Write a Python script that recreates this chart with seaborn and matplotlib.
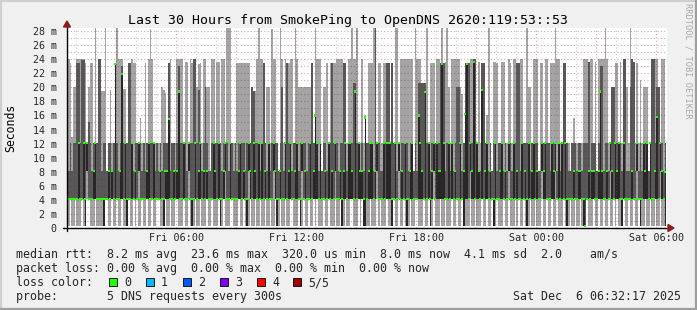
import numpy as np
import pandas as pd
import matplotlib
matplotlib.use("Agg")
import matplotlib.pyplot as plt
import matplotlib.dates as mdates
from matplotlib.patches import Polygon, Rectangle
from matplotlib.lines import Line2D
import seaborn as sns

# ---------------- data (ms), one value per 5-minute step ----------------
FIRST_STEP_END = "2025-12-05 00:35"
WINDOW_START = "2025-12-05 00:32:17"
WINDOW_END = "2025-12-06 06:32:17"

# highest of the 5 pings
hi_ms = [
    24.0,24.0,23.5,13.0,20.1,20.1,24.0,24.0,24.0,24.0, 24.0,23.5,12.1,20.0,23.5,23.5,12.1,28.5,12.1,24.0, 24.0,19.5,19.5,28.5,8.1,12.1,19.6,12.1,12.1,23.5,
    28.5,24.0,24.0,24.0,19.8,19.8,12.1,23.4,23.4,24.0, 23.4,23.4,12.1,12.1,15.6,12.1,12.1,23.5,12.1,24.0, 28.3,24.0,12.1,12.1,12.1,12.1,12.1,20.0,19.6,19.2,
    12.1,23.5,24.0,12.1,12.1,12.1,24.0,24.0,24.0,24.0, 12.1,23.6,23.6,12.1,24.0,23.4,24.0,24.0,20.0,23.3, 23.5,12.1,24.0,24.0,20.0,20.0,8.1,24.0,24.0,12.1,
    23.6,23.6,12.1,24.0,24.0,12.1,28.5,28.5,28.5,12.1, 12.1,12.1,23.5,23.5,23.5,23.5,23.5,23.5,23.5,23.5, 12.1,20.0,19.5,19.5,24.0,28.5,24.0,24.0,23.5,12.1,
    20.0,20.0,12.1,28.3,24.0,24.0,12.1,8.1,28.5,24.0, 12.1,24.0,23.5,23.5,24.0,24.0,12.1,28.5,24.0,20.0, 20.0,20.0,20.0,20.0,20.0,20.0,20.0,23.5,12.1,28.5,
    24.0,24.0,24.0,8.1,20.0,20.0,23.5,12.1,23.4,23.4, 23.5,23.4,24.0,24.0,24.0,24.0,23.4,23.4,12.1,24.0, 24.0,28.5,24.0,24.0,28.5,12.1,12.1,24.0,12.1,16.0,
    12.1,23.4,23.4,23.4,28.5,28.5,12.1,23.5,23.5,12.1, 23.5,23.5,23.5,23.5,12.1,23.4,12.1,28.5,28.5,12.1, 24.0,24.0,24.0,24.0,24.0,24.0,24.0,24.0,8.1,28.5,
    24.0,24.0,24.0,20.6,20.6,20.6,28.5,12.1,23.5,23.5, 23.5,12.1,24.0,24.0,23.5,28.5,23.5,23.6,28.5,20.0, 12.1,24.0,24.0,24.0,24.0,24.0,20.0,19.0,12.1,23.5,
    23.5,23.5,24.0,24.0,24.0,24.0,12.1,23.6,12.1,23.5, 23.5,12.1,16.0,28.5,12.1,8.1,23.6,23.6,23.4,12.1, 12.1,23.6,23.6,12.1,12.1,24.0,23.5,12.1,24.0,24.0,
    23.5,23.5,24.0,24.0,12.1,12.1,28.5,20.0,20.0,12.1, 24.0,24.0,24.0,8.1,23.5,23.5,12.1,24.0,24.0,12.1, 23.5,23.5,23.5,28.5,24.0,24.0,12.1,12.1,23.5,23.5,
    12.1,12.1,8.1,12.1,15.7,12.1,12.1,12.1,12.1,12.1, 24.0,24.0,24.0,23.6,24.0,24.0,12.1,23.6,8.1,24.0, 24.0,24.0,24.0,28.5,24.0,12.1,12.1,20.0,20.0,23.5,
    23.5,12.1,23.6,12.1,24.0,24.0,20.0,12.1,28.5,24.0, 23.6,12.1,23.4,12.1,21.0,12.1,20.0,20.0,20.0,8.1, 12.1,24.0,24.0,24.0,24.0,20.0,12.1,24.0,24.0,12.1,
]

# 4th of the 5 sorted pings
p4_ms = [
    12.1,8.1,12.1,8.1,12.1,12.1,23.4,23.4,12.1,23.9, 23.9,12.1,12.1,15.0,12.1,8.1,12.1,12.1,12.1,24.0, 24.0,8.1,12.1,12.1,8.1,12.1,12.1,8.1,12.1,23.5,
    12.1,8.1,12.1,23.0,12.1,12.1,12.1,23.4,23.4,12.1, 8.1,12.1,12.1,12.1,12.1,8.1,12.1,8.1,12.1,12.1, 12.1,12.1,12.1,8.1,12.1,8.1,12.1,8.1,12.1,12.1,
    12.1,23.5,8.1,12.1,12.1,8.1,12.1,23.0,12.1,12.1, 12.1,12.1,8.1,12.1,12.1,12.1,24.0,24.0,12.1,19.6, 12.1,8.1,12.1,20.0,12.1,8.1,8.1,12.1,12.1,12.1,
    12.1,12.1,12.1,8.1,12.1,12.1,12.1,8.1,12.1,12.1, 8.1,12.1,8.1,12.1,12.1,12.1,12.1,8.1,12.1,12.1, 12.1,20.0,19.5,12.1,12.1,12.1,8.1,12.1,23.5,12.1,
    8.1,12.1,8.1,12.1,12.1,12.1,12.1,8.1,12.1,20.0, 8.1,12.1,23.5,12.1,12.1,8.1,12.1,12.1,12.1,8.1, 12.1,12.1,12.1,12.1,8.1,12.1,12.1,23.5,12.1,16.0,
    12.1,8.1,12.1,8.1,12.1,12.1,8.1,12.1,12.1,23.4, 12.1,12.1,12.1,8.1,12.1,12.1,23.4,23.4,8.1,12.1, 12.1,12.1,20.6,20.6,12.1,12.1,8.1,12.1,8.1,15.8,
    12.1,12.1,12.1,12.1,8.1,28.5,12.1,12.1,8.1,8.1, 12.1,12.1,23.5,23.5,12.1,23.4,12.1,12.1,8.1,12.1, 8.1,12.1,12.1,12.1,12.1,8.1,12.1,12.1,8.1,12.1,
    8.1,20.6,20.6,20.6,20.6,20.6,12.1,12.1,8.1,12.1, 12.1,12.1,12.1,12.1,23.5,23.5,23.5,8.1,12.1,12.1, 8.1,12.1,8.1,12.1,20.0,20.0,12.1,8.1,12.1,23.5,
    23.5,23.5,12.1,12.1,24.0,24.0,12.1,8.1,8.1,23.5, 23.5,12.1,12.1,8.1,12.1,8.1,12.1,12.1,8.1,12.1, 12.1,12.1,8.1,12.1,8.1,12.1,12.1,8.1,12.1,12.1,
    23.5,23.5,8.1,12.1,12.1,12.1,12.1,12.1,8.1,12.1, 12.1,12.1,12.1,8.1,8.1,12.1,12.1,12.1,12.1,12.1, 8.1,12.1,12.1,12.1,8.1,12.1,8.1,12.1,23.5,23.5,
    12.1,8.1,8.1,12.1,12.1,12.1,8.1,12.1,12.1,8.1, 12.1,12.1,12.1,23.6,8.1,12.1,12.1,12.1,8.1,12.1, 23.0,23.0,8.1,12.1,12.1,8.1,12.1,20.0,20.0,12.1,
    12.1,12.1,12.1,8.1,24.0,24.0,8.1,8.1,20.0,24.0, 23.6,8.1,12.1,8.1,12.1,8.1,12.1,12.1,12.1,8.1, 12.1,24.0,24.0,12.1,20.0,20.0,12.1,12.1,8.1,12.1,
]

# median of the 5 pings
med_ms = [
    4.1,4.1,4.1,4.1,4.1,4.1,4.1,12.1,4.1,4.1, 12.1,4.1,12.1,4.1,4.1,4.1,8.1,12.1,4.1,4.1, 4.1,4.1,4.1,4.1,4.1,8.1,4.1,8.1,4.1,23.3,
    4.1,4.1,8.1,21.9,4.1,12.1,4.1,4.1,4.1,12.1, 4.1,8.1,4.1,12.1,4.1,4.1,4.1,4.1,8.1,12.1, 4.1,4.1,12.1,4.1,4.1,4.1,8.1,4.1,4.1,8.1,
    8.1,15.5,4.1,4.1,8.1,4.1,8.1,19.4,4.1,4.1, 12.1,4.1,4.1,12.1,4.1,4.1,4.1,12.1,4.1,8.1, 12.1,4.1,8.1,4.1,8.1,4.1,4.1,4.1,12.1,8.1,
    4.1,12.1,4.1,4.1,8.1,12.1,4.1,4.1,12.1,4.1, 4.1,4.1,4.1,8.1,12.1,4.1,8.1,4.1,4.1,12.1, 8.1,4.1,12.1,8.1,4.1,12.1,4.1,12.1,4.1,8.1,
    4.1,12.1,4.1,4.1,12.1,8.1,4.1,4.1,8.1,4.1, 4.1,12.1,4.1,8.1,12.1,4.1,4.1,8.1,12.1,4.1, 4.1,12.1,4.1,8.1,4.1,4.1,12.1,4.1,8.1,16.0,
    12.1,4.1,12.1,4.1,4.1,8.1,4.1,12.1,4.1,8.1, 4.1,12.1,4.1,4.1,8.1,4.1,8.1,12.1,4.1,12.1, 12.1,8.1,4.1,19.4,4.1,12.1,8.1,8.1,4.1,15.7,
    4.1,8.1,12.1,12.1,4.1,8.1,12.1,4.1,4.1,4.1, 12.1,4.1,12.1,12.1,12.1,4.1,4.1,12.1,4.1,12.1, 4.1,8.1,4.1,12.1,4.1,4.1,8.1,12.1,4.1,4.1,
    4.1,16.0,12.1,8.1,4.1,19.3,4.1,12.1,4.1,8.1, 12.1,4.1,12.1,8.1,8.1,23.3,12.1,4.1,4.1,12.1, 4.1,12.1,4.1,8.1,4.1,4.1,12.1,4.1,8.1,16.2,
    23.3,4.1,12.1,8.1,23.6,4.1,12.1,8.1,4.1,19.6, 4.1,8.1,12.1,4.1,8.1,4.1,4.1,12.1,4.1,4.1, 8.1,12.1,4.1,8.1,4.1,12.1,4.1,4.1,12.1,4.1,
    8.1,4.1,4.1,12.1,4.1,8.1,4.1,12.1,4.1,8.1, 12.1,4.1,8.1,4.1,4.1,12.1,8.1,12.1,4.1,4.1, 4.1,12.1,8.1,12.1,4.1,12.1,4.1,12.1,4.1,12.1,
    4.1,4.1,4.1,4.1,8.1,4.1,4.1,8.1,8.1,4.1, 4.1,0.3,4.1,8.1,4.1,8.1,8.1,4.1,4.1,8.1, 19.4,8.1,4.1,4.1,8.1,4.1,12.1,8.1,4.1,12.1,
    8.1,12.1,4.1,4.1,12.1,4.1,4.1,4.1,4.1,8.1, 4.1,4.1,12.1,4.1,4.1,4.1,12.1,8.1,12.1,4.1, 12.1,4.1,4.1,8.1,15.8,4.1,12.1,8.1,4.1,8.0,
]

# 2nd of the 5 sorted pings
p2_ms = [
    4.1,4.1,4.1,4.1,4.1,4.1,4.1,4.1,4.1,4.1, 4.1,0.3,8.1,4.1,4.1,4.1,4.1,4.1,4.1,4.1, 4.1,4.1,0.3,4.1,4.1,4.1,4.1,4.1,4.1,4.1,
    4.1,4.1,4.1,4.1,4.1,4.1,0.3,4.1,4.1,4.1, 4.1,4.1,4.1,8.1,4.1,4.1,4.1,4.1,4.1,4.1, 4.1,4.1,4.1,4.1,4.1,4.1,4.1,4.1,0.3,4.1,
    4.1,4.1,4.1,4.1,4.1,4.1,4.1,4.1,4.1,4.1, 4.1,4.1,4.1,8.1,4.1,0.3,4.1,4.1,4.1,4.1, 4.1,4.1,4.1,4.1,4.1,4.1,4.1,4.1,4.1,4.1,
    4.1,4.1,0.3,4.1,4.1,8.1,4.1,4.1,4.1,4.1, 4.1,4.1,4.1,4.1,4.1,4.1,4.1,4.1,0.3,8.1, 4.1,4.1,4.1,4.1,4.1,4.1,4.1,4.1,4.1,4.1,
    4.1,4.1,4.1,4.1,8.1,4.1,0.3,4.1,4.1,4.1, 4.1,4.1,4.1,4.1,4.1,4.1,4.1,4.1,4.1,4.1, 0.3,8.1,4.1,4.1,4.1,4.1,4.1,4.1,4.1,4.1,
    4.1,4.1,4.1,4.1,4.1,4.1,4.1,4.1,4.1,4.1, 4.1,8.1,4.1,4.1,4.1,0.3,4.1,4.1,4.1,4.1, 4.1,4.1,4.1,4.1,4.1,4.1,4.1,4.1,0.3,0.3,
    4.1,4.1,4.1,4.1,4.1,4.1,8.1,4.1,4.1,4.1, 4.1,4.1,4.1,4.1,4.1,0.3,4.1,4.1,4.1,8.1, 4.1,4.1,4.1,4.1,0.3,4.1,4.1,4.1,4.1,4.1,
    4.1,4.1,4.1,4.1,4.1,4.1,4.1,4.1,0.3,4.1, 8.1,4.1,4.1,4.1,4.1,4.1,4.1,4.1,4.1,4.1, 4.1,4.1,4.1,4.1,4.1,4.1,4.1,4.1,0.3,4.1,
    4.1,4.1,8.1,4.1,4.1,4.1,4.1,4.1,4.1,4.1, 4.1,4.1,4.1,4.1,4.1,4.1,0.3,4.1,4.1,4.1, 4.1,4.1,4.1,4.1,4.1,8.1,4.1,4.1,4.1,4.1,
    4.1,4.1,4.1,4.1,4.1,4.1,0.3,4.1,4.1,4.1, 4.1,4.1,4.1,4.1,4.1,8.1,4.1,4.1,4.1,4.1, 4.1,4.1,4.1,8.1,4.1,4.1,4.1,4.1,4.1,4.1,
    0.3,4.1,4.1,4.1,4.1,4.1,4.1,4.1,4.1,4.1, 0.3,0.3,4.1,4.1,4.1,4.1,4.1,4.1,4.1,4.1, 4.1,4.1,4.1,4.1,4.1,4.1,8.1,4.1,4.1,4.1,
    4.1,4.1,4.1,0.3,4.1,4.1,4.1,4.1,4.1,4.1, 4.1,4.1,8.1,4.1,0.3,4.1,4.1,4.1,4.1,4.1, 4.1,4.1,4.1,4.1,4.1,4.1,8.1,4.1,4.1,0.3,
]

# lowest of the 5 pings
lo_ms = [
    0.3,0.3,4.1,0.3,0.3,4.1,0.3,0.3,0.3,4.1, 0.3,0.3,4.1,4.1,0.3,0.3,0.3,4.1,0.3,0.3, 0.3,0.3,0.3,4.1,4.1,0.3,0.3,4.1,0.3,0.3,
    4.1,0.3,0.3,4.1,0.3,0.3,0.3,4.1,0.3,0.3, 4.1,0.3,4.1,0.3,0.3,4.1,0.3,0.3,4.1,0.3, 0.3,4.1,0.3,0.3,4.1,4.1,0.3,0.3,0.3,4.1,
    0.3,0.3,4.1,0.3,0.3,4.1,4.1,0.3,0.3,0.3, 4.1,0.3,0.3,4.1,0.3,0.3,0.3,4.1,0.3,0.3, 4.1,0.3,0.3,0.3,4.1,0.3,0.3,4.1,0.3,0.3,
    0.3,4.1,0.3,0.3,4.1,0.3,0.3,0.3,4.1,4.1, 0.3,0.3,0.3,4.1,0.3,0.3,4.1,0.3,0.3,0.3, 4.1,0.3,0.3,4.1,0.3,0.3,4.1,0.3,0.3,4.1,
    0.3,0.3,4.1,0.3,0.3,4.1,0.3,0.3,4.1,0.3, 0.3,4.1,0.3,0.3,4.1,4.1,0.3,0.3,0.3,4.1, 0.3,0.3,4.1,0.3,0.3,4.1,0.3,0.3,4.1,0.3,
    4.1,0.3,0.3,0.3,4.1,0.3,0.3,4.1,0.3,0.3, 0.3,4.1,0.3,0.3,4.1,0.3,0.3,4.1,0.3,0.3, 4.1,4.1,0.3,0.3,0.3,4.1,0.3,4.1,0.3,0.3,
    0.3,0.3,4.1,0.3,0.3,0.3,4.1,0.3,4.1,0.3, 0.3,0.3,4.1,0.3,0.3,0.3,4.1,0.3,0.3,4.1, 0.3,0.3,4.1,0.3,0.3,0.3,4.1,0.3,0.3,4.1,
    4.1,0.3,0.3,0.3,4.1,0.3,0.3,4.1,0.3,0.3, 4.1,0.3,0.3,0.3,4.1,0.3,0.3,4.1,0.3,0.3, 0.3,4.1,0.3,0.3,4.1,0.3,0.3,4.1,0.3,0.3,
    0.3,0.3,4.1,0.3,0.3,4.1,0.3,0.3,0.3,4.1, 0.3,0.3,4.1,0.3,0.3,4.1,0.3,0.3,4.1,0.3, 0.3,0.3,4.1,0.3,0.3,4.1,0.3,0.3,0.3,4.1,
    0.3,4.1,0.3,0.3,4.1,0.3,0.3,0.3,4.1,0.3, 0.3,4.1,0.3,0.3,0.3,4.1,0.3,0.3,4.1,0.3, 0.3,4.1,0.3,0.3,4.1,0.3,0.3,0.3,4.1,0.3,
    0.3,0.3,4.1,0.3,0.3,4.1,0.3,0.3,4.1,0.3, 0.3,0.3,4.1,0.3,0.3,0.3,4.1,0.3,0.3,4.1, 0.3,0.3,4.1,0.3,0.3,4.1,0.3,0.3,4.1,0.3,
    4.1,0.3,0.3,0.3,4.1,0.3,0.3,4.1,0.3,0.3, 4.1,0.3,0.3,4.1,0.3,0.3,0.3,4.1,0.3,0.3, 4.1,0.3,0.3,4.1,0.3,0.3,4.1,0.3,0.3,0.3,
]

y_ticks = [0, 2, 4, 6, 8, 10, 12, 14, 16, 18, 20, 22, 24, 26, 28]
y_tick_labels = ["0", "2 m", "4 m", "6 m", "8 m", "10 m", "12 m", "14 m", "16 m",
                 "18 m", "20 m", "22 m", "24 m", "26 m", "28 m"]
x_label_times = ["2025-12-05 06:00", "2025-12-05 12:00", "2025-12-05 18:00",
                 "2025-12-06 00:00", "2025-12-06 06:00"]
x_tick_labels = ["Fri 06:00", "Fri 12:00", "Fri 18:00", "Sat 00:00", "Sat 06:00"]
loss_labels = ["0", "1", "2", "3", "4", "5/5"]
loss_colors = ["#26ff00", "#00b8ff", "#0059ff", "#7e00ff", "#ff0000", "#a10000"]

title = "Last 30 Hours from SmokePing to OpenDNS 2620:119:53::53"
legend_rows = [
    "median rtt:  8.2 ms avg  23.6 ms max  320.0 us min  8.0 ms now  4.1 ms sd  2.0    am/s",
    "packet loss: 0.00 % avg  0.00 % max  0.00 % min  0.00 % now",
    "loss color:",
    "probe:       5 DNS requests every 300s",
]
stamp = "Sat Dec  6 06:32:17 2025"

# ---------------- figure ----------------
sns.set_theme(style="white")
plt.rcParams["font.family"] = ["DejaVu Sans Mono", "DejaVu Sans"]

W, H = 697, 310
fig = plt.figure(figsize=(W / 100, H / 100), dpi=100)
fig.patch.set_facecolor("#f0f0f0")
PL, PR, PT, PB = 67, 667, 28, 228
ax = fig.add_axes([PL / W, 1 - PB / H, (PR - PL) / W, (PB - PT) / H])
ax.set_facecolor("white")

end_t = pd.date_range(FIRST_STEP_END, periods=len(med_ms), freq="5min")
df = pd.DataFrame({
    "start": mdates.date2num(end_t - pd.Timedelta(minutes=5)),
    "mid": mdates.date2num(end_t - pd.Timedelta(minutes=2.5)),
    "lo": lo_ms, "p2": p2_ms, "med": med_ms, "p4": p4_ms, "hi": hi_ms,
})
step = 5 / 1440.0

# smoke: outer pings light, inner pings dark, lower inner half darkest
ax.bar(df["start"], df["hi"] - df["lo"], bottom=df["lo"], width=step, align="edge",
       color="#a4a4a4", linewidth=0, antialiased=False, zorder=1)
ax.bar(df["start"], df["p4"] - df["p2"], bottom=df["p2"], width=step, align="edge",
       color="#585858", linewidth=0, antialiased=False, zorder=2)
ax.bar(df["start"], df["med"] - df["p2"], bottom=df["p2"], width=step, align="edge",
       color="#272727", linewidth=0, antialiased=False, zorder=2.5)
sns.scatterplot(data=df, x="mid", y="med", marker="s", s=2.4, color="#26ff00",
                edgecolor="none", linewidth=0, ax=ax, zorder=4, legend=False)
ax.set_xlabel("")
ax.set_ylabel("")

x_lo = mdates.date2num(pd.Timestamp(WINDOW_START))
x_hi = mdates.date2num(pd.Timestamp(WINDOW_END))
ax.set_xlim(x_lo, x_hi)
ax.set_ylim(0, 28.43)

# grid
red_grid = (0.51, 0.12, 0.12, 0.38)
gray_grid = (0.45, 0.45, 0.45, 0.35)
for v in range(1, 29):
    ax.axhline(v, color=red_grid, lw=0.8, ls=(0, (1, 2)), zorder=3)
for t in pd.date_range("2025-12-05 01:00", "2025-12-06 06:00", freq="1h"):
    c = red_grid if t.hour % 3 == 0 else gray_grid
    ax.axvline(mdates.date2num(t), color=c, lw=0.8, ls=(0, (1, 2)), zorder=3)

ax.set_xticks([mdates.date2num(pd.Timestamp(t)) for t in x_label_times])
ax.set_xticklabels(x_tick_labels, fontsize=7.3)
ax.set_yticks(y_ticks)
ax.set_yticklabels(y_tick_labels, fontsize=7.2)
ax.tick_params(axis="x", length=0, pad=3.5)
ax.tick_params(axis="y", length=3, width=0.7, direction="out", color="#555555", pad=4.5)
ax.grid(False)
for s in ax.spines.values():
    s.set_visible(False)

# axis lines with arrows
def axc(px, py):
    return ((px - PL) / (PR - PL), (PB - py) / (PB - PT))

ax.add_line(Line2D(*zip(axc(63, 228), axc(669, 228)), transform=ax.transAxes,
                   color="black", lw=1.0, clip_on=False, zorder=5))
ax.add_line(Line2D(*zip(axc(67, 231), axc(67, 25)), transform=ax.transAxes,
                   color="black", lw=1.0, clip_on=False, zorder=5))
arrow_c = "#8f1b1b"
ax.add_patch(Polygon([axc(668, 224.5), axc(668, 231.5), axc(674, 228)], closed=True,
                     transform=ax.transAxes, color=arrow_c, clip_on=False, zorder=6))
ax.add_patch(Polygon([axc(63.5, 27), axc(70.5, 27), axc(67, 21)], closed=True,
                     transform=ax.transAxes, color=arrow_c, clip_on=False, zorder=6))

# texts
def fx(px):
    return px / W

def fy(py):
    return 1 - py / H

fig.text(fx(348), fy(24), title, ha="center", va="baseline", fontsize=9.55, color="black")
fig.text(fx(11), fy(128), "Seconds", rotation=90, ha="center", va="center",
         fontsize=8.3, color="black")
fig.text(fx(688), fy(61), "RRDTOOL / TOBI OETIKER", rotation=270, ha="center",
         va="center", fontsize=6.2, color="#a8a8a8")

for k, row in enumerate(legend_rows):
    fig.text(fx(16), fy(258 + 14 * k), row, ha="left", va="baseline", fontsize=8.4)
fig.text(fx(681), fy(300), stamp, ha="right", va="baseline", fontsize=8.4)

sq_left = [109, 146, 183, 220, 257, 293]
for xl, lab, col in zip(sq_left, loss_labels, loss_colors):
    fig.add_artist(Rectangle((fx(xl), fy(286)), 8 / W, 8 / H, transform=fig.transFigure,
                             facecolor=col, edgecolor="black", lw=0.6))
    fig.text(fx(xl + 15), fy(286), lab, ha="left", va="baseline", fontsize=8.4)

# outer frame
fig.add_artist(Line2D([0, 1], [fy(1), fy(1)], transform=fig.transFigure, color="#cfcfcf", lw=1.6))
fig.add_artist(Line2D([fx(1), fx(1)], [0, 1], transform=fig.transFigure, color="#cfcfcf", lw=1.6))
fig.add_artist(Line2D([0, 1], [fy(309), fy(309)], transform=fig.transFigure, color="#9e9e9e", lw=1.6))
fig.add_artist(Line2D([fx(696), fx(696)], [0, 1], transform=fig.transFigure, color="#9e9e9e", lw=1.6))

fig.savefig("out.png", dpi=100, facecolor=fig.get_facecolor())
